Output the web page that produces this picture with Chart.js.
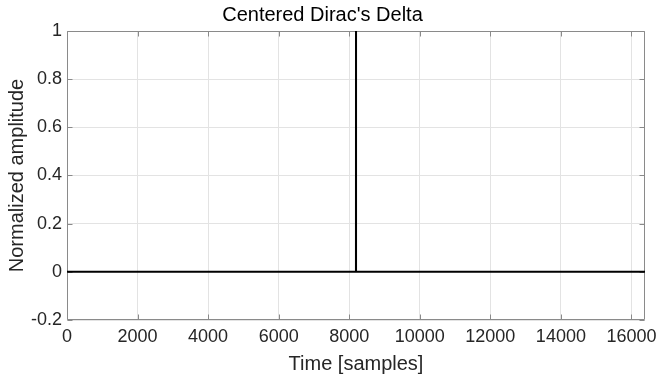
<!DOCTYPE html>
<html>
<head>
<meta charset="utf-8">
<script src="https://cdn.jsdelivr.net/npm/chart.js@4"></script>
<style>
  html, body { margin: 0; padding: 0; background: #fff; }
  #wrap { width: 660px; height: 380px; }
</style>
</head>
<body>
<div id="wrap"><canvas id="c" width="660" height="380"></canvas></div>
<script>
// Centered Dirac's delta: zero everywhere except a unit spike at the middle sample
const sampleIdx = [0, 8191, 8192, 8193, 16384];
const amplitude = [0, 0, 1, 0, 0];
const xTicks = [0, 2000, 4000, 6000, 8000, 10000, 12000, 14000, 16000];
const yTicks = [-0.2, 0, 0.2, 0.4, 0.6, 0.8, 1];

const FONT = '"Liberation Sans", Arial, Helvetica, sans-serif';
const AXIS_GRAY = '#8a8a8a';
const TICK_TXT = '#262626';

// MATLAB-ish box with inward ticks on all four sides
const boxPlugin = {
  id: 'matlabBox',
  beforeDatasetsDraw(chart) {
    const { ctx, chartArea: a, scales } = chart;
    const L = Math.round(a.left) + 0.5, R = Math.round(a.right) - 0.5;
    const T = Math.round(a.top) + 0.5, B = Math.round(a.bottom) - 0.5;
    const tl = 5;
    ctx.save();
    ctx.strokeStyle = AXIS_GRAY;
    ctx.lineWidth = 1;
    ctx.beginPath();
    ctx.rect(L, T, R - L, B - T);
    xTicks.forEach((v) => {
      const x = Math.round(scales.x.getPixelForValue(v)) + 0.5;
      ctx.moveTo(x, B); ctx.lineTo(x, B - tl);
      ctx.moveTo(x, T); ctx.lineTo(x, T + tl);
    });
    yTicks.forEach((v) => {
      const y = Math.round(scales.y.getPixelForValue(v)) + 0.5;
      ctx.moveTo(L, y); ctx.lineTo(L + tl, y);
      ctx.moveTo(R, y); ctx.lineTo(R - tl, y);
    });
    ctx.stroke();
    ctx.restore();
  },
};

new Chart(document.getElementById('c').getContext('2d'), {
  type: 'line',
  data: {
    datasets: [{
      data: sampleIdx.map((x, i) => ({ x, y: amplitude[i] })),
      borderColor: '#000',
      borderWidth: 2,
      pointRadius: 0,
      tension: 0,
      fill: false,
    }],
  },
  options: {
    responsive: false,
    animation: false,
    devicePixelRatio: 1,
    layout: { padding: { top: 0, right: 15, bottom: 0, left: 0 } },
    plugins: {
      legend: { display: false },
      tooltip: { enabled: false },
      title: {
        display: true,
        text: "Centered Dirac's Delta",
        color: '#000',
        font: { family: FONT, size: 20, weight: 'normal' },
        padding: { top: 3, bottom: 4 },
      },
    },
    scales: {
      x: {
        type: 'linear',
        min: 0,
        max: 16384,
        afterBuildTicks: (s) => { s.ticks = xTicks.map((v) => ({ value: v })); },
        afterFit: (s) => { s.height = 60; s.paddingLeft = 0; s.paddingRight = 0; },
        ticks: {
          color: TICK_TXT,
          font: { family: FONT, size: 18 },
          padding: 6,
          maxRotation: 0,
          autoSkip: false,
          callback: (v) => String(v),
        },
        grid: { color: '#e3e3e3', lineWidth: 1, drawTicks: false },
        border: { display: false },
        title: {
          display: true,
          text: 'Time [samples]',
          color: TICK_TXT,
          font: { family: FONT, size: 20 },
          padding: { top: 0, bottom: 4 },
        },
      },
      y: {
        min: -0.2,
        max: 1,
        afterBuildTicks: (s) => { s.ticks = yTicks.map((v) => ({ value: v })); },
        afterFit: (s) => { s.width = 67; s.paddingTop = 0; s.paddingBottom = 0; },
        ticks: {
          color: TICK_TXT,
          font: { family: FONT, size: 18 },
          padding: 5,
          autoSkip: false,
          callback: (v) => String(+v.toFixed(1)),
        },
        grid: { color: '#e3e3e3', lineWidth: 1, drawTicks: false },
        border: { display: false },
        title: {
          display: true,
          text: 'Normalized amplitude',
          color: TICK_TXT,
          font: { family: FONT, size: 20 },
          padding: { top: 5, bottom: 0 },
        },
      },
    },
  },
  plugins: [boxPlugin],
});
</script>
</body>
</html>
